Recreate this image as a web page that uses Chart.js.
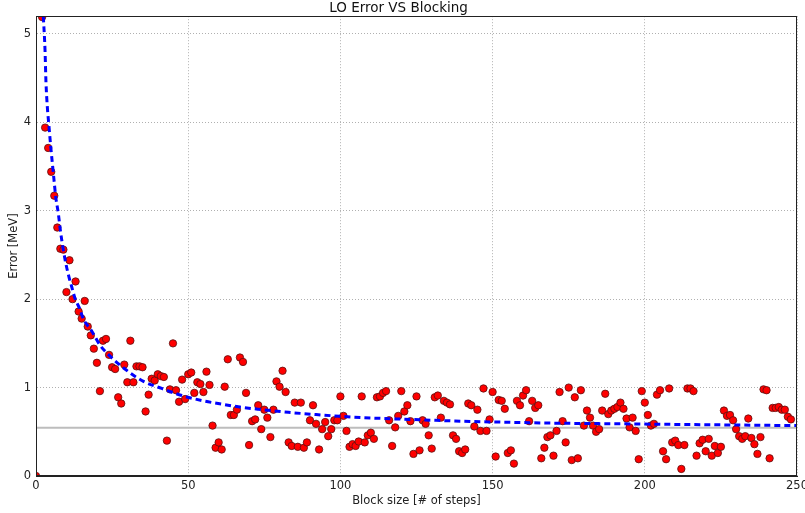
<!DOCTYPE html>
<html>
<head>
<meta charset="utf-8">
<script src="https://cdn.jsdelivr.net/npm/chart.js@4"></script>
<style>
html,body{margin:0;padding:0;background:#fff;}
#wrap{width:805px;height:513px;}
</style>
</head>
<body>
<div id="wrap"><canvas id="c" width="805" height="513"></canvas></div>
<script>
// ---- data ----
const blockSize = [0,2,3,4,5,6,7,8,9,10,11,12,13,14,15,16,17,18,19,20,
21,22,23,24,25,26,27,28,29,30,31,32,33,34,35,36,37,38,39,40,
41,42,43,44,45,46,47,48,49,50,51,52,53,54,55,56,57,58,59,60,
61,62,63,64,65,66,67,68,69,70,71,72,73,74,75,76,77,78,79,80,
81,82,83,84,85,86,87,88,89,90,91,92,93,94,95,96,97,98,99,100,
101,102,103,104,105,106,107,108,109,110,111,112,113,114,115,116,117,118,119,120,
121,122,123,124,125,126,127,128,129,130,131,132,133,134,135,136,137,138,139,140,
141,142,143,144,145,146,147,148,149,150,151,152,153,154,155,156,157,158,159,160,
161,162,163,164,165,166,167,168,169,170,171,172,173,174,175,176,177,178,179,180,
181,182,183,184,185,186,187,188,189,190,191,192,193,194,195,196,197,198,199,200,
201,202,203,204,205,206,207,208,209,210,211,212,213,214,215,216,217,218,219,220,
221,222,223,224,225,226,227,228,229,230,231,232,233,234,235,236,237,238,239,240,
241,242,243,244,245,246,247,248];
const loError = [0,5.19,3.94,3.71,3.44,3.17,2.81,2.57,2.56,2.08,2.44,2.00,2.20,1.86,1.78,1.98,1.69,1.59,1.44,1.28,
0.96,1.53,1.55,1.37,1.23,1.21,0.89,0.82,1.26,1.06,1.53,1.06,1.24,1.24,1.23,0.73,0.92,1.10,1.08,1.15,
1.13,1.12,0.40,0.98,1.50,0.97,0.84,1.09,0.87,1.15,1.17,0.94,1.06,1.04,0.95,1.18,1.03,0.57,0.32,0.38,
0.30,1.01,1.32,0.69,0.69,0.75,1.34,1.29,0.94,0.35,0.62,0.64,0.80,0.53,0.75,0.66,0.44,0.75,1.07,1.01,
1.19,0.95,0.38,0.34,0.83,0.33,0.83,0.32,0.38,0.63,0.80,0.59,0.30,0.53,0.61,0.45,0.53,0.63,0.63,0.90,
0.68,0.51,0.33,0.36,0.34,0.39,0.90,0.38,0.46,0.49,0.42,0.89,0.90,0.94,0.96,0.63,0.34,0.55,0.68,0.96,
0.73,0.80,0.62,0.25,0.90,0.29,0.63,0.59,0.46,0.31,0.89,0.91,0.66,0.85,0.83,0.81,0.46,0.42,0.28,0.26,
0.30,0.82,0.80,0.56,0.75,0.51,0.99,0.51,0.64,0.95,0.22,0.86,0.85,0.76,0.26,0.29,0.14,0.85,0.80,0.91,
0.97,0.62,0.85,0.77,0.80,0.20,0.32,0.44,0.46,0.23,0.51,0.95,0.62,0.38,1.00,0.18,0.89,0.20,0.97,0.57,
0.74,0.66,0.57,0.50,0.53,0.74,0.93,0.70,0.74,0.76,0.78,0.83,0.76,0.65,0.55,0.66,0.51,0.19,0.96,0.83,
0.69,0.57,0.59,0.92,0.97,0.28,0.19,0.99,0.38,0.40,0.35,0.08,0.35,0.99,0.99,0.96,0.23,0.37,0.41,0.28,
0.42,0.23,0.34,0.26,0.33,0.74,0.68,0.69,0.63,0.53,0.45,0.42,0.45,0.65,0.43,0.36,0.25,0.44,0.98,0.97,
0.20,0.77,0.77,0.78,0.75,0.75,0.67,0.64];

// fitted curve
const fitX = [2.4,2.96,3.28,3.71,4.27,4.83,5.36,5.91,6.47,7.33,8.11,8.97,9.76,10.84,11.73,12.8,14.5,15.5,18.3,21,
23.6,29.2,35.3,41.3,47.9,55,61.5,67,73,82.9,93.9,100,107.5,118.5,126.7,137.6,149,162,170,192,206,220,235,250];
const fitY = [5.2,4.82,4.45,4.18,3.95,3.73,3.54,3.35,3.16,2.97,2.75,2.56,2.41,2.25,2.14,2.01,1.88,1.78,1.64,1.48,
1.38,1.21,1.07,0.99,0.91,0.85,0.81,0.78,0.755,0.72,0.69,0.675,0.66,0.645,0.635,0.622,0.612,0.603,0.598,0.59,0.585,0.58,0.575,0.57];

// horizontal reference level
const refX = [0,250];
const refY = [0.547,0.547];

const xTicks = [0,50,100,150,200,250];
const yTicks = [0,1,2,3,4,5];

const FONT = "'DejaVu Sans', sans-serif";

const framePlugin = {
  id:'frame',
  afterDraw(chart){
    const {ctx, chartArea:a} = chart;
    ctx.save();
    ctx.strokeStyle = '#222';
    ctx.lineWidth = 1;
    ctx.strokeRect(Math.round(a.left)+0.5, Math.round(a.top)+0.5, Math.round(a.right-a.left)-1, Math.round(a.bottom-a.top)-1);
    ctx.restore();
  }
};

new Chart(document.getElementById('c'), {
  data:{
    datasets:[
      {
        type:'line', label:'fit',
        data: fitX.map((x,i)=>({x:x,y:fitY[i]})),
        borderColor:'#0000ff', borderWidth:3, borderDash:[6,4],
        pointRadius:0, fill:false, cubicInterpolationMode:'monotone',
        clip:0, order:0
      },
      {
        type:'scatter', label:'LO error',
        data: blockSize.map((x,i)=>({x:x,y:loError[i]})),
        backgroundColor:'#ff0000', borderColor:'#5a1010', borderWidth:0.8,
        pointRadius:3.7, pointHoverRadius:3.7,
        clip:0, order:1
      },
      {
        type:'line', label:'level',
        data: refX.map((x,i)=>({x:x,y:refY[i]})),
        borderColor:'#bdbdbd', borderWidth:2, pointRadius:0, fill:false,
        clip:0, order:2
      }
    ]
  },
  options:{
    responsive:false, animation:false,
    layout:{padding:{left:0,right:8,top:0,bottom:0}},
    plugins:{
      legend:{display:false},
      tooltip:{enabled:false},
      title:{display:true, text:'LO Error VS Blocking', color:'#111',
        font:{family:FONT,size:13.5,weight:'normal',lineHeight:1.2}, padding:{top:0,bottom:0}}
    },
    scales:{
      x:{
        type:'linear', position:'bottom', min:0, max:250,
        afterFit(s){ s.height = 37; s.paddingLeft = 0; s.paddingRight = 0; },
        afterBuildTicks(s){ s.ticks = xTicks.map(v=>({value:v})); },
        ticks:{color:'#222', font:{family:FONT,size:11.5}, padding:3, maxRotation:0},
        grid:{color:'#b0b0b0', lineWidth:1, drawTicks:false},
        border:{display:true, color:'#222', dash:[1,2]},
        title:{display:true, text:'Block size [# of steps]', color:'#222',
          font:{family:FONT,size:11.5}, padding:{top:0,bottom:5}}
      },
      y:{
        type:'linear', min:0, max:5.2,
        afterFit(s){ s.width = 36; s.paddingTop = 0; s.paddingBottom = 0; },
        afterBuildTicks(s){ s.ticks = yTicks.map(v=>({value:v})); },
        ticks:{color:'#222', font:{family:FONT,size:11.5}, padding:5},
        grid:{color:'#b0b0b0', lineWidth:1, drawTicks:false},
        border:{display:true, color:'#222', dash:[1,2]},
        title:{display:true, text:'Error [MeV]', color:'#222',
          font:{family:FONT,size:11.5}, padding:{top:7,bottom:0}}
      }
    }
  },
  plugins:[framePlugin]
});
</script>
</body>
</html>
